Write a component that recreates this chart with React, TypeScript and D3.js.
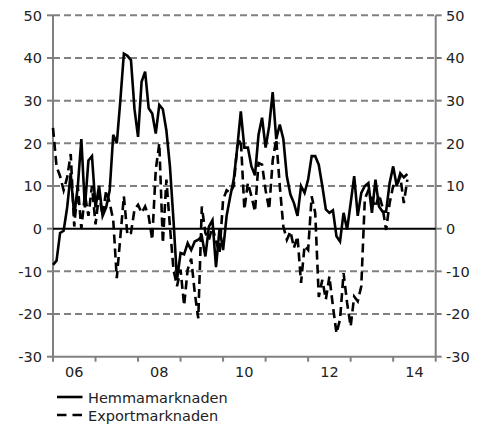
import React from 'react';
import * as d3 from 'd3';

const hemmamarknaden: number[] = [
  -8.5, -7.5, -1, -0.5, 5, 13, 3, 10, 21, 5,
  16, 17, 5, 10, 3, 5, 9, 22, 20, 30,
  41, 40.5, 39.5, 28, 21.5, 34.4, 36.8, 28.2, 27, 22.3,
  29, 28, 23, 14.6, 2, -12, -5.7, -6, -3.4, -5,
  -3, -2.6, -1.8, -6.5, 0.5, 2, -9, 0, -5, 3,
  7.5, 11.5, 19, 27.5, 19, 19, 14.6, 12.5, 22, 26,
  19, 24, 32, 21, 24.4, 21, 12.2, 8, 6, 3,
  10, 8.4, 11.5, 17, 17, 15, 10, 4.5, 3.7, 4.3,
  -1.8, -3, 3.7, -0.2, 6, 12.3, 3, 8.4, 10, 10.7,
  3.7, 11.5, 5.2, 4, 4, 10.7, 14.6, 10, 13, 12, 12.8,
];

const exportmarknaden: number[] = [
  23.6, 14.6, 12.3, 9, 12, 17.5, 0.5, 10, 0, 8,
  3, 10, 1, 8, 3, 9, 6, 2, -11.6, -2,
  7.6, -1.5, -1, 4.5, 5.6, 3.7, 5.2, 2.9, -2.6, 13.8,
  20, -3.4, 11.5, 0.5, -9.6, -13.5, -9.6, -18, -9.6, -7,
  -15, -21, 5.2, -1, -2.6, 0.5, -3, -5.7, 6.8, 9,
  8.4, 10, 19.3, 21, 4.5, 10.7, 7.6, 4, 15.4, 15,
  9, 4.5, 16, 21, 10, 0.5, -2.6, -0.6, -4.5, -1.8,
  -12.7, -4, -5, 7.6, 3.7, -16, -12, -16.6, -11.2, -18.2,
  -24.5, -21.3, -10.4, -17.4, -22.9, -15.9, -17, -13.5, 7, 9,
  7, 5, 8, 5, -0.3, 6, 10, 10, 12.3, 6, 11.5,
];

const yTicks: number[] = [-30, -20, -10, 0, 10, 20, 30, 40, 50];
const tickYears: number[] = [2006, 2007, 2008, 2009, 2010, 2011, 2012, 2013, 2014, 2015];
const labelYears: number[] = [2006, 2008, 2010, 2012, 2014];
const seriesNames: string[] = ['Hemmamarknaden', 'Exportmarknaden'];

const W = 483;
const H = 425;
const FONT = '"DejaVu Sans", Verdana, sans-serif';
const GRAY = '#808080';

export default function App() {
  const x = d3.scaleLinear().domain([0, 108]).range([53, 435.7]);
  const y = d3.scaleLinear().domain([-30, 50]).range([356.7, 15.3]);
  const monthOf = (yr: number) => (yr - 2006) * 12;
  const line = d3
    .line<number>()
    .x((_, i) => x(i))
    .y((d) => y(d));

  const left = x.range()[0];
  const right = x.range()[1];
  const bottom = y(-30);
  const top = y(50);

  return (
    <svg
      width={W}
      height={H}
      style={{ position: 'absolute', left: 0, top: 0, background: '#fff' }}
      fontFamily={FONT}
    >
      {/* gridlines */}
      {yTicks
        .filter((t) => t !== 0 && t !== -30)
        .map((t) => (
          <line
            key={'g' + t}
            x1={left}
            x2={right}
            y1={y(t)}
            y2={y(t)}
            stroke={GRAY}
            strokeWidth={2}
            strokeDasharray="7,4"
          />
        ))}
      {/* axes */}
      <line x1={left} x2={left} y1={top} y2={bottom} stroke={GRAY} strokeWidth={2} />
      <line x1={right} x2={right} y1={top} y2={bottom} stroke={GRAY} strokeWidth={2} />
      <line x1={left} x2={right} y1={bottom} y2={bottom} stroke={GRAY} strokeWidth={2} />
      {yTicks.map((t) => (
        <g key={'yt' + t}>
          <line x1={left - 6} x2={left} y1={y(t)} y2={y(t)} stroke={GRAY} strokeWidth={2} />
          <line x1={right} x2={right + 6} y1={y(t)} y2={y(t)} stroke={GRAY} strokeWidth={2} />
          <text x={42} y={y(t)} dy="0.36em" textAnchor="end" fontSize={14.5} fill="#222">
            {t}
          </text>
          <text x={446} y={y(t)} dy="0.36em" textAnchor="start" fontSize={14.5} fill="#222">
            {t}
          </text>
        </g>
      ))}
      {tickYears.map((yr) => (
        <line
          key={'xt' + yr}
          x1={x(monthOf(yr))}
          x2={x(monthOf(yr))}
          y1={bottom}
          y2={bottom + 5}
          stroke={GRAY}
          strokeWidth={2}
        />
      ))}
      {labelYears.map((yr) => (
        <text
          key={'xl' + yr}
          x={x(monthOf(yr) + 6)}
          y={377}
          textAnchor="middle"
          fontSize={14.5}
          fill="#222"
        >
          {String(yr).slice(2)}
        </text>
      ))}
      {/* zero line */}
      <line x1={left} x2={right} y1={y(0)} y2={y(0)} stroke="#000" strokeWidth={2} />
      {/* series */}
      <path
        d={line(exportmarknaden) || ''}
        fill="none"
        stroke="#000"
        strokeWidth={2.6}
        strokeDasharray="9,5"
        strokeLinejoin="miter"
      />
      <path
        d={line(hemmamarknaden) || ''}
        fill="none"
        stroke="#000"
        strokeWidth={2.6}
        strokeLinejoin="miter"
      />
      {/* legend */}
      <line x1={57} x2={82.5} y1={397} y2={397} stroke="#000" strokeWidth={2.6} />
      <text x={88} y={402.5} fontSize={14.5} fill="#222">
        {seriesNames[0]}
      </text>
      <line
        x1={57}
        x2={82.5}
        y1={415}
        y2={415}
        stroke="#000"
        strokeWidth={2.6}
        strokeDasharray="9.5,6"
      />
      <text x={88} y={420.5} fontSize={14.5} fill="#222">
        {seriesNames[1]}
      </text>
    </svg>
  );
}
